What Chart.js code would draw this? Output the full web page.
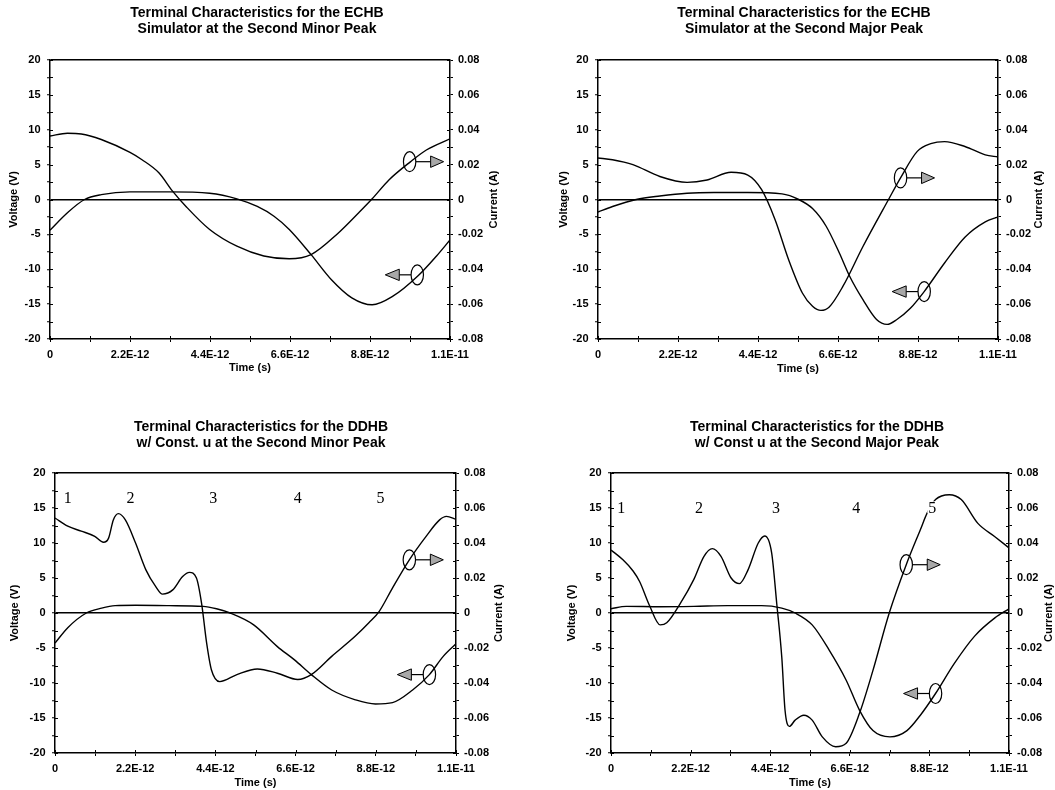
<!DOCTYPE html>
<html>
<head>
<meta charset="utf-8">
<script src="https://cdn.jsdelivr.net/npm/chart.js@4.4.1/dist/chart.umd.min.js"></script>
<style>
html,body{margin:0;padding:0;background:#fff;overflow:hidden;width:1055px;height:790px;position:relative;}
canvas{position:absolute;}
</style>
</head>
<body>
<canvas id="c1"></canvas>
<canvas id="c2"></canvas>
<canvas id="c3"></canvas>
<canvas id="c4"></canvas>
<script>
// ---------------- data ----------------
const titleP1 = ['Terminal Characteristics for the ECHB', 'Simulator at the Second Minor Peak'];
const titleP2 = ['Terminal Characteristics for the ECHB', 'Simulator at the Second Major Peak'];
const titleP3 = ['Terminal Characteristics for the DDHB', 'w/ Const. u at the Second Minor Peak'];
const titleP4 = ['Terminal Characteristics for the DDHB', 'w/ Const u at the Second Major Peak'];

const xAxisTitle = 'Time (s)';
const vAxisTitle = 'Voltage (V)';
const cAxisTitle = 'Current (A)';

// time tick labels (time axis in units of 1E-12 s)
const xTickLabels = ['0', '2.2E-12', '4.4E-12', '6.6E-12', '8.8E-12', '1.1E-11'];
const voltTickLabels = ['-20', '-15', '-10', '-5', '0', '5', '10', '15', '20'];
const currTickLabels = ['-0.08', '-0.06', '-0.04', '-0.02', '0', '0.02', '0.04', '0.06', '0.08'];

// Panel 1: ECHB, second minor peak  (time in ps)
const p1VoltTime = [0, 0.48, 0.95, 1.41, 2.2, 3.28, 4.39, 5.14, 5.7, 6.16, 6.58, 7.18, 7.74, 8.3, 8.86, 9.42, 10.13, 10.63, 11];
const p1Volt     = [-4.4, -1.9, 0, 0.7, 1.1, 1.1, 0.9, 0.1, -1.0, -2.4, -4.3, -7.9, -11.5, -14.1, -15.1, -13.9, -10.9, -8.1, -5.8];
const p1CurrTime = [0, 0.48, 0.86, 1.41, 2.2, 2.53, 3.0, 3.37, 3.74, 4.39, 5.14, 5.88, 6.58, 7.18, 7.93, 8.49, 8.86, 9.32, 9.91, 10.35, 11];
const p1Curr     = [0.0364, 0.038, 0.0376, 0.0344, 0.027, 0.0228, 0.0152, 0.0048, -0.004, -0.0172, -0.0268, -0.0324, -0.034, -0.0316, -0.0192, -0.0076, 0.0004, 0.0112, 0.0216, 0.0284, 0.0348];

// Panel 2: ECHB, second major peak
const p2VoltTime = [0, 0.4, 1.05, 1.7, 2.45, 3.19, 4.12, 5.06, 5.52, 5.9, 6.27, 6.64, 6.92, 7.29, 7.66, 7.95, 8.22, 8.59, 8.97, 9.53, 10.09, 10.65, 11];
const p2Volt     = [-1.8, -1.0, 0, 0.5, 0.9, 1.0, 1.0, 0.8, 0, -1.3, -3.8, -7.7, -11.0, -14.4, -17.2, -17.9, -17.2, -15.6, -13.2, -9.1, -5.4, -3.2, -2.5];
const p2CurrTime = [0, 0.4, 0.96, 1.7, 2.45, 3.0, 3.66, 4.12, 4.5, 4.87, 5.24, 5.62, 5.9, 6.13, 6.36, 6.73, 7.29, 7.99, 8.32, 8.78, 9.15, 9.53, 10.09, 10.65, 11];
const p2Curr     = [0.0238, 0.0228, 0.02, 0.0132, 0.0098, 0.0112, 0.0156, 0.014, 0.0056, -0.0116, -0.0344, -0.0536, -0.0612, -0.0636, -0.0616, -0.05, -0.0268, 0, 0.0124, 0.0276, 0.032, 0.0332, 0.0304, 0.0256, 0.0244];

// Panel 3: DDHB const u, second minor peak
const p3VoltTime = [0, 0.35, 0.86, 1.28, 1.65, 2.21, 3.13, 4.06, 4.43, 4.8, 5.45, 6.1, 6.57, 7.03, 7.59, 8.24, 8.79, 9.26, 9.81, 10.27, 10.65, 11];
const p3Volt     = [-4.3, -2.1, 0, 0.7, 1.05, 1.1, 1.05, 0.95, 0.6, 0, -1.7, -4.8, -6.7, -8.8, -11.0, -12.4, -13.0, -12.8, -11.0, -8.8, -6.2, -4.4];
const p3CurrTime = [0, 0.35, 0.72, 1.09, 1.33, 1.47, 1.6, 1.74, 1.93, 2.21, 2.49, 2.76, 2.95, 3.23, 3.5, 3.69, 3.88, 4.02, 4.16, 4.29, 4.52, 4.99, 5.55, 6.1, 6.66, 7.03, 7.59, 8.24, 8.61, 8.89, 9.26, 9.72, 10.18, 10.55, 10.74, 11];
const p3Curr     = [0.0543, 0.0496, 0.0468, 0.0438, 0.0404, 0.0428, 0.0532, 0.0568, 0.0532, 0.04, 0.0248, 0.0152, 0.0108, 0.0132, 0.0208, 0.0232, 0.02, 0.0056, -0.0172, -0.0324, -0.0392, -0.0352, -0.032, -0.0344, -0.038, -0.0352, -0.0248, -0.0132, -0.0056, 0.0008, 0.0144, 0.0304, 0.0438, 0.0532, 0.0552, 0.0536];

// Panel 4: DDHB const u, second major peak
const p4VoltTime = [0, 0.42, 1.36, 2.29, 3.22, 4.16, 4.72, 5.09, 5.56, 6.03, 6.5, 6.87, 7.24, 7.71, 8.18, 8.55, 8.97, 9.49, 10.05, 10.61, 11];
const p4Volt     = [0.6, 0.95, 0.9, 0.95, 1.05, 1.05, 0.7, 0, -1.7, -5.3, -9.6, -13.9, -16.8, -17.7, -16.8, -14.6, -11.5, -7.2, -3.3, -0.7, 0.6];
const p4CurrTime = [0, 0.33, 0.61, 0.79, 1.07, 1.36, 1.54, 1.92, 2.29, 2.57, 2.8, 3.04, 3.32, 3.55, 3.79, 4.07, 4.25, 4.44, 4.58, 4.72, 4.81, 4.93, 5.09, 5.33, 5.56, 5.84, 6.21, 6.5, 6.87, 7.24, 7.69, 8.16, 8.55, 8.74, 8.97, 9.35, 9.68, 10.14, 10.61, 11];
const p4Curr     = [0.036, 0.0304, 0.024, 0.018, 0.004, -0.0068, -0.0056, 0.0056, 0.0192, 0.0324, 0.0368, 0.0324, 0.02, 0.0168, 0.0248, 0.04, 0.044, 0.0344, 0.0056, -0.0252, -0.0556, -0.0648, -0.0612, -0.0584, -0.0612, -0.0708, -0.0764, -0.0744, -0.0572, -0.0328, 0, 0.0276, 0.0476, 0.0572, 0.0648, 0.0676, 0.0648, 0.0512, 0.0436, 0.0372];

// series-indicator markers (time in ps, value on voltage scale; dir 1 = points to right axis, -1 = left axis)
const p1Markers = [{x: 9.89, y: 5.42, dir: 1}, {x: 10.1, y: -10.8, dir: -1}];
const p2Markers = [{x: 8.32, y: 3.1, dir: 1}, {x: 8.97, y: -13.2, dir: -1}];
const p3Markers = [{x: 9.72, y: 7.6, dir: 1}, {x: 10.27, y: -8.8, dir: -1}];
const p4Markers = [{x: 8.16, y: 6.9, dir: 1}, {x: 8.97, y: -11.5, dir: -1}];

// region numbers
const regionLabels = ['1', '2', '3', '4', '5'];
const p3RegionTime = [0.35, 2.07, 4.34, 6.66, 8.93];
const p3RegionY = 16.4;
const p4RegionTime = [0.28, 2.43, 4.56, 6.78, 8.88];
const p4RegionY = 15.1;

// ---------------- drawing ----------------
const FONT = '"Liberation Sans", Arial, Helvetica, sans-serif';
const SERIF = '"Liberation Serif", "Times New Roman", serif';

function pts(xs, ys) { return xs.map((x, i) => ({x: x, y: ys[i]})); }

const decorPlugin = {
  id: 'decor',
  afterDatasetsDraw(chart, args, opts) {
    const ctx = chart.ctx;
    const sx = chart.scales.x, sy = chart.scales.y;
    ctx.save();
    // markers
    (opts.markers || []).forEach(m => {
      const cx = sx.getPixelForValue(m.x), cy = sy.getPixelForValue(m.y);
      const d = m.dir;
      ctx.strokeStyle = '#000';
      ctx.lineWidth = 1.2;
      ctx.beginPath();
      ctx.ellipse(cx, cy, 6.2, 10, 0, 0, Math.PI * 2);
      ctx.stroke();
      const lineEnd = d > 0 ? 21 : 18;
      const tip = d > 0 ? 34 : 32;
      ctx.beginPath();
      ctx.moveTo(cx + d * 6.2, cy);
      ctx.lineTo(cx + d * lineEnd, cy);
      ctx.stroke();
      ctx.beginPath();
      ctx.moveTo(cx + d * lineEnd, cy - 5.7);
      ctx.lineTo(cx + d * tip, cy);
      ctx.lineTo(cx + d * lineEnd, cy + 5.7);
      ctx.closePath();
      ctx.fillStyle = '#a8a8a8';
      ctx.fill();
      ctx.lineWidth = 1;
      ctx.stroke();
    });
    // region numbers
    if (opts.regions) {
      ctx.font = '16px ' + SERIF;
      ctx.textAlign = 'center';
      ctx.textBaseline = 'middle';
      opts.regions.time.forEach((t, i) => {
        const px = sx.getPixelForValue(t), py = sy.getPixelForValue(opts.regions.y);
        const w = ctx.measureText(regionLabels[i]).width;
        ctx.fillStyle = '#fff';
        ctx.fillRect(px - w / 2 - 1, py - 6, w + 2, 12);
        ctx.fillStyle = '#000';
        ctx.fillText(regionLabels[i], px, py + 1);
      });
    }
    ctx.restore();
  },
  afterDraw(chart, args, opts) {
    const ctx = chart.ctx, a = chart.chartArea;
    const {x, y, y1} = chart.scales;
    ctx.save();
    ctx.strokeStyle = '#000';
    ctx.lineWidth = 1;
    ctx.beginPath();
    x.ticks.forEach(t => { const p = Math.round(x.getPixelForValue(t.value)) + 0.5; ctx.moveTo(p, a.bottom); ctx.lineTo(p, a.bottom - 3); });
    y.ticks.forEach(t => { const p = Math.round(y.getPixelForValue(t.value)) + 0.5; ctx.moveTo(a.left, p); ctx.lineTo(a.left + 3, p); });
    y1.ticks.forEach(t => { const p = Math.round(y1.getPixelForValue(t.value)) + 0.5; ctx.moveTo(a.right, p); ctx.lineTo(a.right - 3, p); });
    ctx.stroke();
    // right axis title (reads bottom-to-top as in the original)
    ctx.translate(a.right + opts.cTitleDx, (a.top + a.bottom) / 2);
    ctx.rotate(-Math.PI / 2);
    ctx.font = 'bold 11px ' + FONT;
    ctx.fillStyle = '#000';
    ctx.textAlign = 'center';
    ctx.textBaseline = 'middle';
    ctx.fillText(cAxisTitle, 0, 0);
    ctx.restore();
  }
};

const panels = [
  {id: 'c1', left: 0, top: 0, w: 514, h: 390, area: {l: 50, r: 450, t: 60, b: 339}, titleTop: 5, vTitleX: 13.5, xTitleY: 368.3, cTitleDx: 44,
   title: titleP1, vt: p1VoltTime, v: p1Volt, ct: p1CurrTime, c: p1Curr, markers: p1Markers, regions: null},
  {id: 'c2', left: 556, top: 0, w: 496, h: 390, area: {l: 42, r: 442, t: 60, b: 339}, titleTop: 5, vTitleX: 7.9, xTitleY: 369.3, cTitleDx: 41,
   title: titleP2, vt: p2VoltTime, v: p2Volt, ct: p2CurrTime, c: p2Curr, markers: p2Markers, regions: null},
  {id: 'c3', left: 0, top: 390, w: 522, h: 400, area: {l: 55, r: 456, t: 83, b: 363}, titleTop: 28.7, vTitleX: 15.2, xTitleY: 393.3, cTitleDx: 43,
   title: titleP3, vt: p3VoltTime, v: p3Volt, ct: p3CurrTime, c: p3Curr, markers: p3Markers, regions: {time: p3RegionTime, y: p3RegionY}},
  {id: 'c4', left: 564, top: 390, w: 506, h: 400, area: {l: 47, r: 445, t: 83, b: 363}, titleTop: 28.7, vTitleX: 8.3, xTitleY: 392.7, cTitleDx: 40,
   title: titleP4, vt: p4VoltTime, v: p4Volt, ct: p4CurrTime, c: p4Curr, markers: p4Markers, regions: {time: p4RegionTime, y: p4RegionY}}
];

const tickFont = {family: FONT, size: 11, weight: 'bold'};

panels.forEach(p => {
  const cv = document.getElementById(p.id);
  cv.width = p.w; cv.height = p.h;
  cv.style.left = p.left + 'px'; cv.style.top = p.top + 'px';
  new Chart(cv, {
    type: 'line',
    data: {
      datasets: [
        {label: 'Voltage', data: pts(p.vt, p.v), yAxisID: 'y', borderColor: '#000', borderWidth: 1.4, pointRadius: 0, fill: false, cubicInterpolationMode: 'monotone'},
        {label: 'Current', data: pts(p.ct, p.c), yAxisID: 'y1', borderColor: '#000', borderWidth: 1.4, pointRadius: 0, fill: false, cubicInterpolationMode: 'monotone'}
      ]
    },
    options: {
      responsive: false,
      animation: false,
      layout: {padding: 0},
      plugins: {
        legend: {display: false},
        tooltip: {enabled: false},
        title: {display: true, text: p.title, color: '#000', align: 'center',
                font: {family: FONT, size: 14, weight: 'bold', lineHeight: 16 / 14},
                padding: {top: p.titleTop, bottom: p.area.t - p.titleTop - 32}},
        decor: {markers: p.markers, regions: p.regions, cTitleDx: p.cTitleDx}
      },
      scales: {
        x: {
          type: 'linear', min: 0, max: 11,
          afterFit(s) { s.height = p.h - p.area.b; },
          ticks: {stepSize: 1.1, autoSkip: false, maxRotation: 0, minRotation: 0, padding: 6, color: '#000', font: tickFont,
                  callback: (v, i) => (i % 2 === 0 ? xTickLabels[i / 2] : '')},
          grid: {drawOnChartArea: false, tickLength: 3, tickColor: '#000', tickWidth: 1},
          border: {color: '#000', width: 1.5},
          title: {display: true, text: xAxisTitle, color: '#000', font: tickFont, padding: {top: 0, bottom: Math.max(0, p.h - p.xTitleY - 6.6)}}
        },
        y: {
          type: 'linear', position: 'left', min: -20, max: 20,
          afterFit(s) { s.width = p.area.l; },
          ticks: {stepSize: 2.5, autoSkip: false, padding: 6.5, color: '#000', font: tickFont,
                  callback: (v, i) => (i % 2 === 0 ? voltTickLabels[i / 2] : '')},
          grid: {drawOnChartArea: true, lineWidth: 1.5,
                 color: c => (c.tick && (c.tick.value === 0 || c.tick.value === 20)) ? '#000' : 'rgba(0,0,0,0)',
                 tickLength: 3, tickColor: '#000', tickWidth: 1},
          border: {color: '#000', width: 1.5},
          title: {display: true, text: vAxisTitle, color: '#000', font: tickFont, padding: {top: Math.max(0, p.vTitleX - 6.6), bottom: 0}}
        },
        y1: {
          type: 'linear', position: 'right', min: -0.08, max: 0.08,
          afterFit(s) { s.width = p.w - p.area.r; },
          ticks: {stepSize: 0.01, autoSkip: false, padding: 5, color: '#000', font: tickFont,
                  callback: (v, i) => (i % 2 === 0 ? currTickLabels[i / 2] : '')},
          grid: {drawOnChartArea: false, tickLength: 3, tickColor: '#000', tickWidth: 1},
          border: {color: '#000', width: 1.5}
        }
      }
    },
    plugins: [decorPlugin]
  });
});
</script>
</body>
</html>
